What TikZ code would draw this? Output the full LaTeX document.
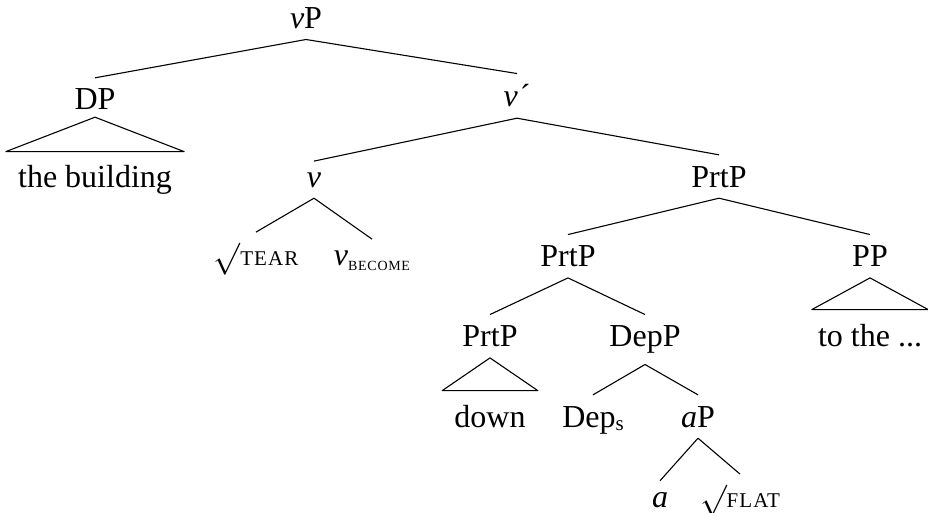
\documentclass[tikz,border=0pt]{standalone}
\usepackage{fontspec}
\setmainfont{Liberation Serif}
\newfontfamily\scf[LetterSpace=5]{Liberation Serif}
\newcommand{\rootsign}{\raisebox{-2.3pt}{\fontsize{10}{12}\selectfont\scalebox{3.2}{$\surd$}}}
\newcommand{\smc}[2]{{\fontsize{#1}{#1}\scf #2}}
\begin{document}
\begin{tikzpicture}[x=1pt,y=-1pt,
  font=\fontsize{32}{38}\selectfont,
  n/.style={anchor=base, inner xsep=2pt, inner ysep=11pt, text depth=0pt},
  tri/.style={anchor=base, inner xsep=12pt, inner ysep=14pt, text depth=0pt},
  edge/.style={draw, line width=1.1pt, line join=round}]
\useasboundingbox (0,0) rectangle (928,513);
% nodes
\node[n] (vP) at (306,28.3) {{\itshape v}P};
\node[n] (DP) at (95,110) {DP};
\node[n] (vbar) at (517,107) {{\itshape v}\kern2pt´};
\node[tri] (tb) at (95,188) {the building};
\node[n] (v) at (314,187) {\itshape v};
\node[n] (PrtPa) at (719,187) {PrtP};
\node[n] (tear) at (256,265) {\rootsign\smc{21}{TEAR}};
\node[n] (vbec) at (372,265) {{\itshape v}\raisebox{-5pt}{\smc{14}{BECOME}}};
\node[n] (PrtPb) at (568,266.7) {PrtP};
\node[n] (PP) at (870,266.7) {PP};
\node[n] (PrtPc) at (490,346.7) {PrtP};
\node[n] (DepP) at (645,346.7) {DepP};
\node[tri, inner xsep=6pt] (tothe) at (870,346) {to the ...};
\node[tri] (down) at (490,427) {down};
\node[n] (Deps) at (593,427) {Dep\raisebox{-3.5pt}{\fontsize{21}{21}\selectfont s}};
\node[n] (aP) at (698,427) {{\itshape a}P};
\node[n] (a) at (660,507) {\itshape a};
\node[n] (flat) at (740,507) {\rootsign\smc{21}{FLAT}};
% edges
\draw[edge] (DP.north) -- (vP.south) -- (vbar.north);
\draw[edge] ([yshift=4pt]DP.south) -- (tb.north west) -- (tb.north east) -- cycle;
\draw[edge] (v.north) -- (vbar.south) -- (PrtPa.north);
\draw[edge] (tear.north) -- (v.south) -- (vbec.north);
\draw[edge] (PrtPb.north) -- (PrtPa.south) -- (PP.north);
\draw[edge] (PP.south) -- (tothe.north west) -- (tothe.north east) -- cycle;
\draw[edge] (PrtPc.north) -- (PrtPb.south) -- (DepP.north);
\draw[edge] (PrtPc.south) -- (down.north west) -- (down.north east) -- cycle;
\draw[edge] (Deps.north) -- ([yshift=-6.6pt]DepP.south) -- (aP.north);
\draw[edge] (a.north) -- (aP.south) -- (flat.north);
\end{tikzpicture}
\end{document}
